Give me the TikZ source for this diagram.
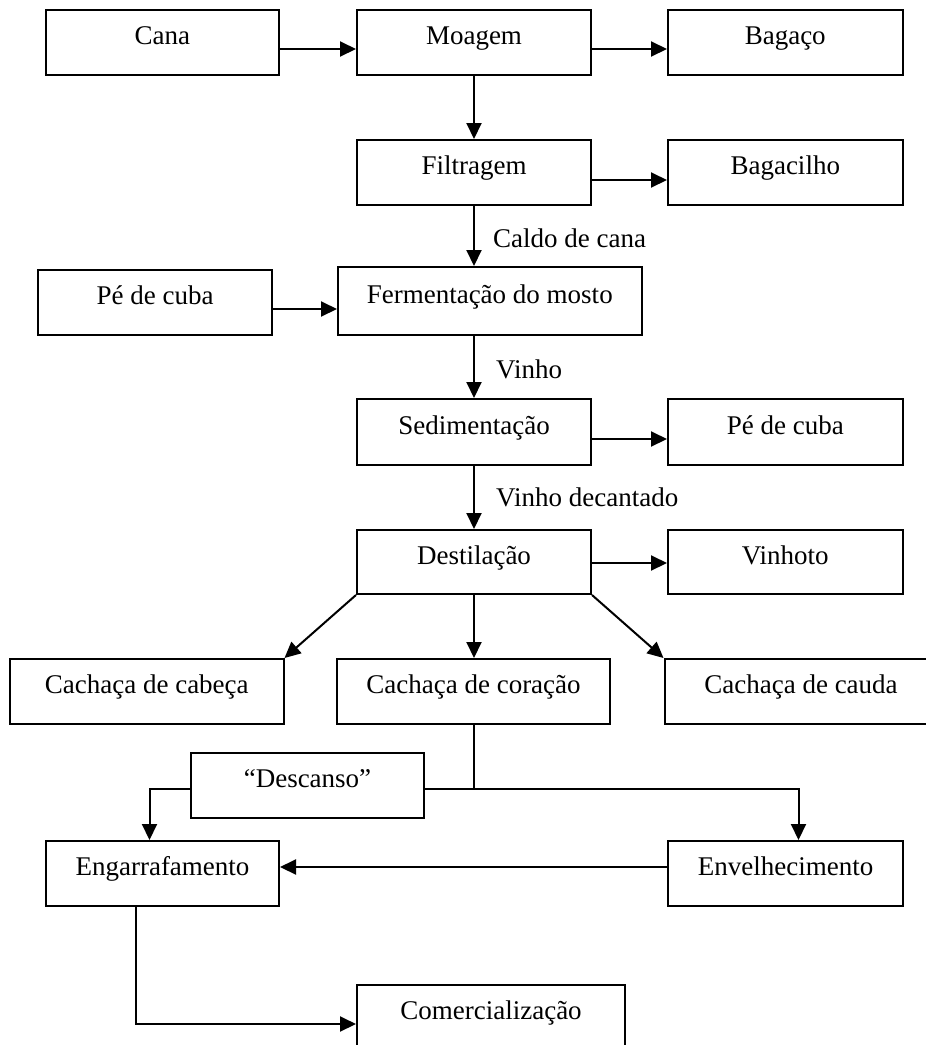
\documentclass[tikz,border=0pt]{standalone}
\usepackage{fontspec}
\setmainfont{Liberation Serif}
\usetikzlibrary{arrows.meta}
\begin{document}
\begin{tikzpicture}[x=1pt,y=-1pt,
  box/.style={draw, line width=2pt, rectangle, inner sep=0pt,
    minimum height=65pt, text height=20pt, text depth=16pt,
    font=\fontsize{27}{30}\selectfont},
  arr/.style={line width=2pt, -{Triangle[length=16pt,width=15pt]}},
  ln/.style={line width=2pt},
  lbl/.style={anchor=base west, inner sep=0pt, font=\fontsize{27}{30}\selectfont}]
\useasboundingbox (0,0) rectangle (926,1045);
\clip (0,0) rectangle (926,1045);

% boxes
\node[box, minimum width=233.5pt] (cana)      at (162.25,42.5) {Cana};
\node[box, minimum width=234pt]   (moagem)    at (474,42.5)    {Moagem};
\node[box, minimum width=234.5pt] (bagaco)    at (785.25,42.5) {Bagaço};
\node[box, minimum width=234pt]   (filtragem) at (474,172.5)   {Filtragem};
\node[box, minimum width=234.5pt] (bagacilho) at (785.25,172.5){Bagacilho};
\node[box, minimum width=303.5pt, minimum height=68pt] (ferm) at (489.75,301) {Fermentação do mosto};
\node[box, minimum width=233.6pt] (pecubaA)   at (155.2,302.5) {Pé de cuba};
\node[box, minimum width=234pt, minimum height=66pt] (sedim) at (474,432) {Sedimentação};
\node[box, minimum width=234.5pt, minimum height=66pt] (pecubaB) at (785.25,432) {Pé de cuba};
\node[box, minimum width=234pt, minimum height=64pt] (destil) at (474,562) {Destilação};
\node[box, minimum width=234.5pt, minimum height=64pt] (vinhoto) at (785.25,562) {Vinhoto};
\node[box, minimum width=273.5pt] (cabeca)    at (146.75,691.5) {Cachaça de cabeça};
\node[box, minimum width=273pt]   (coracao)   at (473.5,691.5)  {Cachaça de coração};
\node[box, minimum width=273pt]   (cauda)     at (801,691.5)    {Cachaça de cauda};
\node[box, minimum width=233pt]   (descanso)  at (307.5,785.5)  {“Descanso”};
\node[box, minimum width=233pt]   (engarraf)  at (162.5,873.5)  {Engarrafamento};
\node[box, minimum width=235pt]   (envelh)    at (785.5,873.5)  {Envelhecimento};
\node[box, minimum width=268pt]   (comerc)    at (491,1017.5)   {Comercialização};

% labels
\node[lbl] (lcaldo) at (493,247) {Caldo de cana};
\node[lbl] (lvinho) at (496,378) {Vinho};
\node[lbl] (lvdec)  at (496,506) {Vinho decantado};

% helper coordinates
\coordinate (y1) at (0,49);
\coordinate (y2) at (0,180);
\coordinate (y3) at (0,309);
\coordinate (y4) at (0,439);
\coordinate (y5) at (0,563);
\coordinate (yJ) at (0,789);
\coordinate (y6) at (0,867);
\coordinate (y7) at (0,1024);
\coordinate (xE) at (798.5,0);
\coordinate (xG) at (149.5,0);
\coordinate (xB) at (136,0);

% horizontal arrows
\draw[arr] (cana.east |- y1) -- (moagem.west |- y1);
\draw[arr] (moagem.east |- y1) -- (bagaco.west |- y1);
\draw[arr] (filtragem.east |- y2) -- (bagacilho.west |- y2);
\draw[arr] (pecubaA.east |- y3) -- (ferm.west |- y3);
\draw[arr] (sedim.east |- y4) -- (pecubaB.west |- y4);
\draw[arr] (destil.east |- y5) -- (vinhoto.west |- y5);
\draw[arr] (envelh.west |- y6) -- (engarraf.east |- y6);

% vertical arrows
\draw[arr] (moagem.south) -- (filtragem.north);
\draw[arr] (filtragem.south) -- (filtragem.south |- ferm.north);
\draw[arr] (sedim.north |- ferm.south) -- (sedim.north);
\draw[arr] (sedim.south) -- (destil.north);
\draw[arr] (destil.south) -- (destil.south |- coracao.north);
\draw[arr] (destil.south west) -- (cabeca.north east);
\draw[arr] (destil.south east) -- (cauda.north west);

% lower branch
\draw[ln] (coracao.south) -- (coracao.south |- yJ);
\draw[arr] (descanso.east |- yJ) -- (xE |- yJ) -- (xE |- envelh.north);
\draw[arr] (descanso.west |- yJ) -- (xG |- yJ) -- (xG |- engarraf.north);
\draw[arr] (xB |- engarraf.south) -- (xB |- y7) -- (comerc.west |- y7);
\end{tikzpicture}
\end{document}
